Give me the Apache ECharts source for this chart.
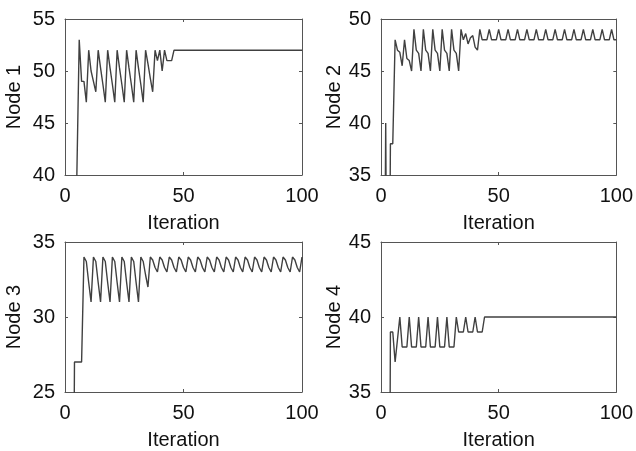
<!DOCTYPE html>
<html>
<head>
<meta charset="utf-8">
<script src="https://cdn.jsdelivr.net/npm/echarts@6/dist/echarts.min.js"></script>
<style>
  html, body { margin: 0; padding: 0; background: #fff; }
  #chart { width: 636px; height: 451px; }
</style>
</head>
<body>
<div id="chart"></div>
<script>
// Node values per iteration (iterations 1..100)
const node1 = [
  0, 0, 0, 0, 40, 53, 49, 49, 47, 52,
  50, 49, 48, 52, 50.3, 48.7, 47, 52, 50.3, 48.7,
  47, 52, 50.3, 48.7, 47, 52, 50.3, 48.7, 47, 52,
  50.3, 48.7, 47, 52, 50.7, 49.3, 48, 52, 51, 52,
  50, 52, 51, 51, 51, 52, 52, 52, 52, 52,
  52, 52, 52, 52, 52, 52, 52, 52, 52, 52,
  52, 52, 52, 52, 52, 52, 52, 52, 52, 52,
  52, 52, 52, 52, 52, 52, 52, 52, 52, 52,
  52, 52, 52, 52, 52, 52, 52, 52, 52, 52,
  52, 52, 52, 52, 52, 52, 52, 52, 52, 52
];
const node2 = [
  0, 40, 0, 38, 38, 48, 47, 46.8, 45.5, 48,
  46.2, 46, 45, 49, 47, 46.7, 45, 49, 47, 46.7,
  45, 49, 47, 46.7, 45, 49, 47, 46.7, 45, 49,
  47, 46.7, 45, 49, 48, 48.6, 47.6, 48.2, 48.4, 47.3,
  47, 49, 48, 48, 48, 49, 48, 48, 48, 49,
  48, 48, 48, 49, 48, 48, 48, 49, 48, 48,
  48, 49, 48, 48, 48, 49, 48, 48, 48, 49,
  48, 48, 48, 49, 48, 48, 48, 49, 48, 48,
  48, 49, 48, 48, 48, 49, 48, 48, 48, 49,
  48, 48, 48, 49, 48, 48, 48, 49, 48, 48
];
const node3 = [
  0, 0, 0, 27, 27, 27, 27, 34, 33.7, 32.3,
  31, 34, 33.7, 32.3, 31, 34, 33.7, 32.3, 31, 34,
  33.7, 32.3, 31, 34, 33.7, 32.3, 31, 34, 33.7, 32.3,
  31, 34, 33.7, 32.8, 32, 34, 33.8, 33.3, 33, 34,
  33.8, 33.3, 33, 34, 33.8, 33.3, 33, 34, 33.8, 33.3,
  33, 34, 33.8, 33.3, 33, 34, 33.8, 33.3, 33, 34,
  33.8, 33.3, 33, 34, 33.8, 33.3, 33, 34, 33.8, 33.3,
  33, 34, 33.8, 33.3, 33, 34, 33.8, 33.3, 33, 34,
  33.8, 33.3, 33, 34, 33.8, 33.3, 33, 34, 33.8, 33.3,
  33, 34, 33.8, 33.3, 33, 34, 33.8, 33.3, 33, 34
];
const node4 = [
  0, 0, 0, 39, 39, 37, 38.5, 40, 38, 38,
  38, 40, 38, 38, 38, 40, 38, 38, 38, 40,
  38, 38, 38, 40, 38, 38, 38, 40, 38, 38,
  38, 40, 39, 39, 39, 40, 39, 39, 39, 40,
  39, 39, 39, 40, 40, 40, 40, 40, 40, 40,
  40, 40, 40, 40, 40, 40, 40, 40, 40, 40,
  40, 40, 40, 40, 40, 40, 40, 40, 40, 40,
  40, 40, 40, 40, 40, 40, 40, 40, 40, 40,
  40, 40, 40, 40, 40, 40, 40, 40, 40, 40,
  40, 40, 40, 40, 40, 40, 40, 40, 40, 40
];

const panelNames = ['Node 1', 'Node 2', 'Node 3', 'Node 4'];
const panelData = [node1, node2, node3, node4];
const yRanges = [[40, 55], [35, 50], [25, 35], [35, 45]];
const xTicks = { min: 0, max: 100, step: 50 };
const xTitle = 'Iteration';

const FONT = 'Liberation Sans, Arial, Helvetica, sans-serif';
const INK = '#111';
const FRAME = '#555';

const grids = [
  { left: 65, top: 19, width: 237, height: 156 },
  { left: 381, top: 19, width: 237, height: 156 },
  { left: 65, top: 242, width: 237, height: 154 },
  { left: 381, top: 242, width: 237, height: 154 }
];
// distance of each y title from its axis line
const yNameGaps = [41, 33, 41, 33];

const xAxes = [];
const yAxes = [];
const series = [];

grids.forEach((g, i) => {
  const tick = { show: true, inside: true, length: 3, lineStyle: { color: FRAME } };
  const line = { show: true, onZero: false, lineStyle: { color: FRAME, width: 1 } };
  xAxes.push({
    gridIndex: i, type: 'value', position: 'bottom',
    min: xTicks.min, max: xTicks.max, interval: xTicks.step,
    axisLine: line, axisTick: tick, splitLine: { show: false },
    axisLabel: { color: INK, fontSize: 20, fontFamily: FONT, margin: 11 },
    name: xTitle, nameLocation: 'middle', nameGap: 38,
    nameTextStyle: { color: INK, fontSize: 20, fontFamily: FONT }
  });
  xAxes.push({
    gridIndex: i, type: 'value', position: 'top',
    min: xTicks.min, max: xTicks.max, interval: xTicks.step,
    axisLine: line, axisTick: tick, axisLabel: { show: false }, splitLine: { show: false }
  });
  yAxes.push({
    gridIndex: i, type: 'value', position: 'left',
    min: yRanges[i][0], max: yRanges[i][1], interval: 5,
    axisLine: line, axisTick: tick, splitLine: { show: false },
    axisLabel: { color: INK, fontSize: 20, fontFamily: FONT, margin: 10 },
    name: panelNames[i], nameLocation: 'middle', nameGap: yNameGaps[i], nameRotate: 90,
    nameTextStyle: { color: INK, fontSize: 20, fontFamily: FONT }
  });
  yAxes.push({
    gridIndex: i, type: 'value', position: 'right',
    min: yRanges[i][0], max: yRanges[i][1], interval: 5,
    axisLine: line, axisTick: tick, axisLabel: { show: false }, splitLine: { show: false }
  });
  series.push({
    type: 'line',
    xAxisIndex: i * 2, yAxisIndex: i * 2,
    data: panelData[i].map((v, k) => [k + 1, v]),
    showSymbol: false, clip: true,
    lineStyle: { color: '#404040', width: 1.4 }
  });
});

const chart = echarts.init(document.getElementById('chart'), null, { renderer: 'canvas' });
chart.setOption({
  backgroundColor: '#fff',
  animation: false,
  grid: grids,
  xAxis: xAxes,
  yAxis: yAxes,
  series: series
});
</script>
</body>
</html>
